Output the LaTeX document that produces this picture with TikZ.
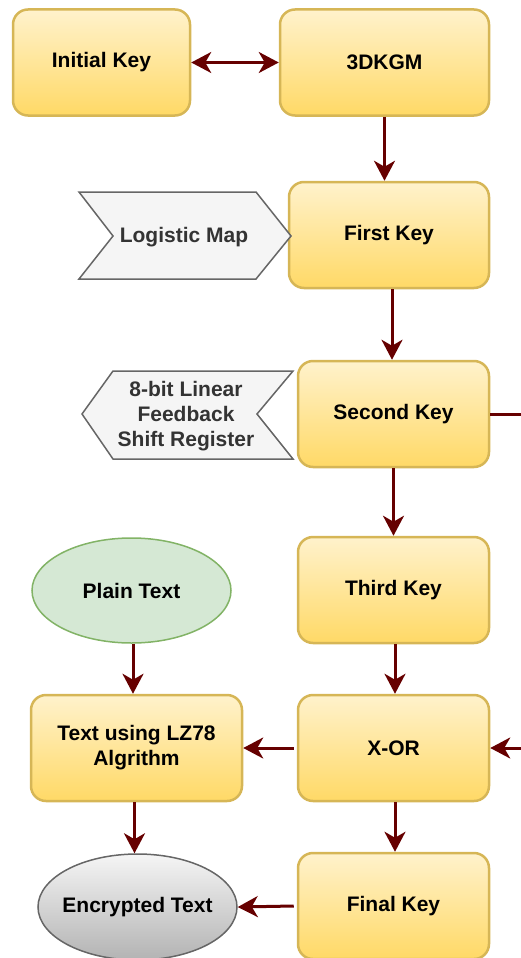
\documentclass[tikz,border=0pt]{standalone}
\usepackage{fontspec}
\setmainfont{Liberation Sans}
\usetikzlibrary{arrows.meta,shapes.geometric}
\definecolor{boxtop}{HTML}{FFF2CC}
\definecolor{boxbot}{HTML}{FFD966}
\definecolor{boxline}{HTML}{D6B656}
\definecolor{greenfill}{HTML}{D5E8D4}
\definecolor{greenline}{HTML}{82B366}
\definecolor{greyfill}{HTML}{F5F5F5}
\definecolor{greyline}{HTML}{666666}
\definecolor{greytext}{HTML}{333333}
\definecolor{greybot}{HTML}{B3B3B3}
\definecolor{arrowc}{HTML}{660000}
\begin{document}
\begin{tikzpicture}[x=1pt,y=-1pt,
  every node/.style={font=\fontsize{21}{25}\selectfont\bfseries, align=center, inner sep=0pt},
  keybox/.style={rectangle, rounded corners=15pt, draw=boxline, line width=2.5pt,
    top color=boxtop, bottom color=boxbot, minimum height=106pt},
  greyshape/.style={draw=greyline, fill=greyfill, line width=1.5pt, line join=miter},
  conn/.style={draw=arrowc, line width=3pt, -{Stealth[length=20pt,width=21pt,inset=6pt]}},
  dconn/.style={draw=arrowc, line width=3pt, {Stealth[length=20pt,width=21pt,inset=6pt]}-{Stealth[length=20pt,width=21pt,inset=6pt]}}
]
\useasboundingbox (0,0) rectangle (521,958);
\clip (0,0) rectangle (521,958);

% key boxes
\node[keybox, minimum width=177pt] (init) at (101.5,62.5) {Initial Key};
\node[keybox, minimum width=209pt] (kgm) at (384.5,62.5) {3DKGM};
\node[keybox, minimum width=200pt] (first) at (389,235) {First Key};
\node[keybox, minimum width=191pt] (second) at (393.5,414) {Second Key};
\node[keybox, minimum width=191pt] (third) at (393.5,590) {Third Key};
\node[keybox, minimum width=211pt] (lz) at (136.5,748) {Text using LZ78\\Algrithm};
\node[keybox, minimum width=191pt] (xor) at (393.5,748) {X-OR};
\node[keybox, minimum width=191pt] (final) at (393.5,906) {Final Key};

% ellipses
\node[ellipse, draw=greenline, fill=greenfill, line width=1.5pt,
  minimum width=199pt, minimum height=105pt] (plain) at (131.5,590.5) {};
\node (plainlabel) at (plain.center) {Plain Text};
\node[ellipse, draw=greyline, line width=1.5pt, top color=greyfill, bottom color=greybot,
  minimum width=199pt, minimum height=106pt] (enc) at (137.5,907) {};
\node (enclabel) at (enc.center) {Encrypted Text};

% grey arrow shapes
\path[greyshape] (79,192) -- (256,192) -- (291,236) -- (256,279) -- (79,279) -- (113,236) -- cycle;
\node[text=greytext] (logistic) at (184,237) {Logistic Map};
\path[greyshape] (113,371) -- (293,371) -- (257,414) -- (293,459) -- (113,459) -- (82,414) -- cycle;
\node[text=greytext] (lfsr) at (186,416) {8-bit Linear\\Feedback\\Shift Register};

% connectors
\draw[dconn] (init.east) -- (kgm.west);
\draw[conn] (kgm.south) -- (kgm.south |- first.north);
\draw[conn] ([xshift=3pt]first.south) -- ([xshift=3pt]first.south |- second.north);
\draw[conn] (second.south) -- (second.south |- third.north);
\draw[conn] ([xshift=1.5pt]third.south) -- ([xshift=1.5pt]third.south |- xor.north);
\draw[conn] ([xshift=1.5pt]plain.south) -- ([xshift=1.5pt]plain.south |- lz.north);
\draw[conn] ([xshift=-3pt]xor.west) -- (lz.east);
\draw[conn] ([xshift=-2pt]lz.south) -- ([xshift=-2pt]lz.south |- enc.north);
\draw[conn] ([xshift=1.5pt]xor.south) -- ([xshift=1.5pt]xor.south |- final.north);
\draw[conn] ([xshift=-3pt]final.west) -- (enc.east);
\coordinate (loopout) at (560,414);
\draw[conn] (second.east) -- (loopout) |- (xor.east);
\end{tikzpicture}
\end{document}
